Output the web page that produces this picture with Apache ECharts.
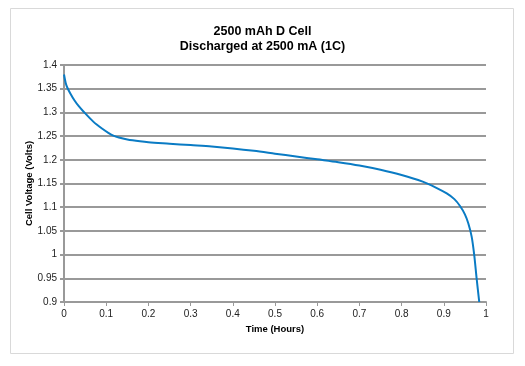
<!DOCTYPE html>
<html><head><meta charset="utf-8">
<script src="https://cdn.jsdelivr.net/npm/echarts@6/dist/echarts.min.js"></script>
<style>html,body{margin:0;padding:0;background:#fff}#c{width:525px;height:366px}</style>
</head><body><div id="c"></div>
<script>
const titleLines = ['2500 mAh D Cell', 'Discharged at 2500 mA (1C)'];
const xAxisName = 'Time (Hours)';
const yAxisName = 'Cell Voltage (Volts)';
const times = [0, 0.004, 0.008, 0.015, 0.025, 0.035, 0.046, 0.07, 0.09, 0.105, 0.117, 0.13, 0.15, 0.18, 0.2, 0.25, 0.3, 0.35, 0.4, 0.45, 0.5, 0.55, 0.6, 0.65, 0.7, 0.75, 0.8, 0.85, 0.88, 0.907, 0.925, 0.938, 0.95, 0.958, 0.966, 0.972, 0.978, 0.984];
const volts = [1.38, 1.362, 1.352, 1.34, 1.325, 1.313, 1.302, 1.28, 1.266, 1.257, 1.251, 1.247, 1.243, 1.239, 1.237, 1.234, 1.231, 1.228, 1.224, 1.219, 1.213, 1.207, 1.201, 1.195, 1.188, 1.179, 1.168, 1.154, 1.142, 1.129, 1.117, 1.103, 1.085, 1.066, 1.038, 1.0, 0.948, 0.9];

const chart = echarts.init(document.getElementById('c'), null, {renderer: 'canvas'});
const fmt = v => String(+(+v).toFixed(2));
const ff = 'Liberation Sans, Arial';
chart.setOption({
  animation: false,
  graphic: [{type: 'rect', shape: {x: 10.5, y: 8.5, width: 503, height: 345}, style: {fill: 'none', stroke: '#d9d9d9', lineWidth: 1}}],
  title: {
    text: titleLines.join('\n'), left: 'center', top: 19,
    textStyle: {fontFamily: ff, fontSize: 12.5, fontWeight: 'bold', color: '#000', lineHeight: 15}
  },
  grid: {left: 64, right: 39, top: 65, bottom: 64, containLabel: false},
  xAxis: {
    type: 'value', min: 0, max: 1, interval: 0.1,
    name: xAxisName, nameLocation: 'middle', nameGap: 22, nameMoveOverlap: false,
    nameTextStyle: {fontFamily: ff, fontSize: 9.5, fontWeight: 'bold', color: '#000'},
    axisLine: {show: true, lineStyle: {color: '#999', width: 2}},
    axisTick: {show: true, length: 4, lineStyle: {color: '#999', width: 1}},
    axisLabel: {fontFamily: ff, fontSize: 10, color: '#222', margin: 7, formatter: fmt},
    splitLine: {show: false}
  },
  yAxis: {
    type: 'value', min: 0.9, max: 1.4, interval: 0.05,
    name: yAxisName, nameLocation: 'middle', nameGap: 30, nameRotate: 90, nameMoveOverlap: false,
    nameTextStyle: {fontFamily: ff, fontSize: 9.5, fontWeight: 'bold', color: '#000'},
    axisLine: {show: true, lineStyle: {color: '#999', width: 2}},
    axisTick: {show: true, length: 4, lineStyle: {color: '#999', width: 2}},
    axisLabel: {fontFamily: ff, fontSize: 10, color: '#222', margin: 7, formatter: fmt},
    splitLine: {show: true, lineStyle: {color: '#999', width: 2}}
  },
  series: [{
    type: 'line', data: times.map((t, i) => [t, volts[i]]),
    showSymbol: false, smooth: 0.3,
    lineStyle: {color: '#0a7bc4', width: 2}
  }]
});
</script></body></html>
